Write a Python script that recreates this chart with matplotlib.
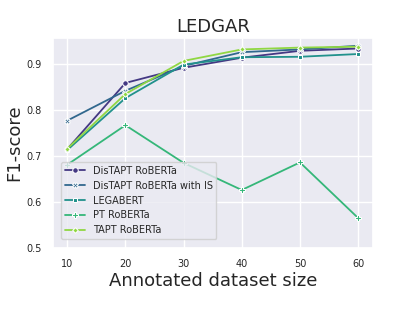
import matplotlib
matplotlib.use('Agg')
from matplotlib import pyplot as plt
import seaborn as sns
import pandas as pd

sizes = [10, 20, 30, 40, 50, 60]
models = ['DisTAPT RoBERTa', 'DisTAPT RoBERTa with IS', 'LEGABERT', 'PT RoBERTa', 'TAPT RoBERTa']
distapt = [0.715, 0.859, 0.892, 0.914, 0.929, 0.934]
distapt_is = [0.777, 0.842, 0.896, 0.926, 0.932, 0.940]
legabert = [0.713, 0.826, 0.899, 0.915, 0.916, 0.922]
pt_roberta = [0.681, 0.767, 0.685, 0.626, 0.686, 0.565]
tapt_roberta = [0.716, 0.835, 0.907, 0.932, 0.936, 0.938]

rows = []
for name, vals in zip(models, [distapt, distapt_is, legabert, pt_roberta, tapt_roberta]):
    for s, v in zip(sizes, vals):
        rows.append({'size': s, 'f1': v, 'model': name})
df = pd.DataFrame(rows)

sns.set_theme(style='darkgrid')
plt.rcParams['font.family'] = ['DejaVu Sans']

fig = plt.figure(figsize=(4.15, 3.11), dpi=100)
ax = fig.add_subplot(111)
fig.subplots_adjust(left=0.127, right=0.898, bottom=0.203, top=0.878)

sns.lineplot(data=df, x='size', y='f1', hue='model', style='model',
             markers=True, dashes=False, palette='viridis', ax=ax,
             markersize=4, linewidth=1.3)

ax.set_ylim(0.5, 0.957)
ax.set_yticks([0.5, 0.6, 0.7, 0.8, 0.9])
ax.set_xticks(sizes)
ax.tick_params(labelsize=7, pad=2)
ax.set_title('LEDGAR', fontsize=13, pad=4)
ax.set_xlabel('Annotated dataset size', fontsize=13, labelpad=2)
ax.set_ylabel('F1-score', fontsize=13, labelpad=2)
ax.legend(loc='lower left', fontsize=7, borderaxespad=0.9)

fig.savefig('out.png', dpi=100)
